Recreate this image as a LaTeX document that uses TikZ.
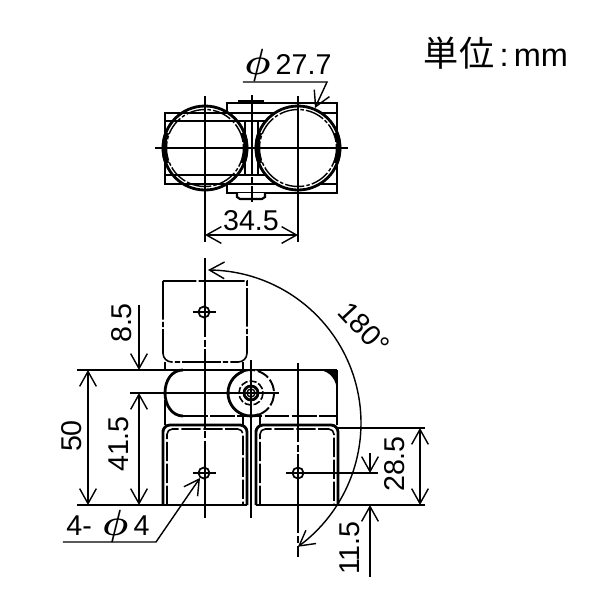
\documentclass[tikz,border=0pt]{standalone}
\usepackage{fontspec}
\setmainfont{Liberation Sans}
\newfontfamily\cjk{Noto Sans CJK JP}
\usetikzlibrary{arrows.meta}
\newcommand{\bigphi}{{\fontsize{20}{20}\selectfont\boldmath$\phi$}}
\tikzset{
	thn/.style={line width=0.8pt},
	thk/.style={line width=1.6pt},
	phantomline/.style={line width=0.9pt,dash pattern=on 22pt off 1.2pt on 3pt off 1.2pt},
	centerline/.style={line width=0.8pt,dash pattern=on 45pt off 1.5pt on 4pt off 1.5pt},
	dimarrow/.style={line width=0.8pt,{Straight Barb[length=8.5pt,width=9.5pt]}-{Straight Barb[length=8.5pt,width=9.5pt]}},
	tiparrow/.style={line width=0.8pt,-{Straight Barb[length=8.5pt,width=9.5pt]}},
	dimtext/.style={font=\fontsize{16.3}{17}\selectfont,inner sep=0pt},
}
\begin{document}
\begin{tikzpicture}[x=0.02cm,y=-0.02cm]
	\useasboundingbox (0,0) rectangle (600,600);
	\fill[white] (0,0) rectangle (600,600);

	% top view
	\begin{scope}
		\draw[thk] (165,113) rectangle (275,184);
		\draw[thk] (165,121) -- (275,121);
		\draw[thk] (165,175) -- (275,175);
		\draw[thk] (275,113) -- (337,113);
		\draw[thk] (275,184) -- (337,184);
		\draw[thk] (227,113) -- (227,103) -- (337,103) -- (337,193) -- (227,193) -- (227,184);
		\draw[thk] (245,121) -- (245,175);
		\draw[thk] (258,121) -- (258,175);
		\fill (238,103) rectangle (264,100);
		\draw[line width=1.2pt,fill=white] (237,193) -- (237,197) -- (240,199) -- (262,199) -- (265,197) -- (265,193);
		\foreach \cx/\op in {205/0,298/1} {
			\draw[thk,fill=white,fill opacity=\op] (\cx,148) circle (42);
			\draw[line width=0.8pt,dash pattern=on 11pt off 1.2pt on 2pt off 1.2pt] (\cx,148) circle (38.5);
			\draw[line width=2.6pt] plot[smooth,domain=-22:22,samples=9] ({\cx+41*cos(\x)},{148+41*sin(\x)});
			\draw[line width=2.6pt] plot[smooth,domain=158:202,samples=9] ({\cx+41*cos(\x)},{148+41*sin(\x)});
		}
		\draw[thn] (155,148) -- (348,148);
		\draw[thn] (205,96) -- (205,242);
		\draw[thn] (298,96) -- (298,242);
		\draw[centerline] (252,95) -- (252,202);
	\end{scope}

	% front view
	\begin{scope}
		\draw[phantomline,rounded corners=5pt] (163,281) [sharp corners] -- (163,340) [rounded corners=5pt] -- (163,362) -- (247,362) -- (247,340) [sharp corners] -- (247,281) -- cycle;
		\draw[thn] (165,362) -- (165,370);
		\draw[thn] (243,362) -- (243,370);
		\draw[thk] (183,370) .. controls (172,370) and (165,380) .. (165,393) .. controls (165,405) and (172,416) .. (183,416);
		\draw[line width=1.1pt,dash pattern=on 14pt off 1.5pt] (183,416) -- (337,416);
		\draw[thk] (165,400) -- (165,425);
		\draw[thk] (243,416) -- (243,425);
		\draw[thk] (260,416) -- (260,425);
		\draw[thk] (337,370) -- (337,425);
		\fill (319,370) -- (337,370) -- (337,392) .. controls (337,380) and (330,371) .. (319,370) -- cycle;
		\draw[thk] (163,505) -- (163,430) [rounded corners=4pt] -- (163,425) -- (247,425) [sharp corners] -- (247,505);
		\draw[thk] (256,505) -- (256,430) [rounded corners=4pt] -- (256,425) -- (338,425) [sharp corners] -- (338,505);
		\draw[line width=0.9pt,dash pattern=on 11pt off 1.5pt,rounded corners=3pt] (167,505) -- (167,429) -- (243,429) -- (243,505);
		\draw[line width=0.9pt,dash pattern=on 11pt off 1.5pt,rounded corners=3pt] (260,505) -- (260,429) -- (334,429) -- (334,505);
		\draw[thk] (77,370) -- (337,370);
		\draw[thk] (77,505) -- (247,505);
		\draw[thk] (256,505) -- (338,505);
		\draw[thn] (338,428) -- (425,428);
		\draw[thn] (338,505) -- (425,505);
		\draw[thn] (130,393) -- (279,393);
		% pivot
		\fill[white] (251,393) circle (23);
		\draw[thk] plot[smooth,domain=70:250,samples=19] ({251+23*cos(\x)},{393+23*sin(\x)});
		\draw[line width=1.1pt,dash pattern=on 7pt off 1.5pt] plot[smooth,domain=-110:70,samples=19] ({251+23*cos(\x)},{393+23*sin(\x)});
		\draw[line width=0.9pt,dash pattern=on 4pt off 1.2pt] (251,393) circle (12);
		\draw[thk] (251,393) circle (7);
		\draw[thn] (251,393) circle (4);
		\draw[thn] (228,393) -- (279,393);
		\draw[thn] (251,360) -- (251,518);
		\draw[centerline] (205,258) -- (205,518);
		\draw[centerline] (298,363) -- (298,557);
		% holes
		\foreach \hx/\hy in {204/312,204/473,298/473} {
			\draw[line width=1pt] (\hx,\hy) circle (5.5);
		}
		\draw[thn] (193,312) -- (216,312);
		\draw[thn] (193,473) -- (216,473);
		\draw[thn] (286,473) -- (378,473);
	\end{scope}

	% dimensions
	\begin{scope}[every node/.style={dimtext}]
		\coordinate (d34l) at (205,235);
		\coordinate (d34r) at (298,235);
		\draw[dimarrow] (d34l) -- (d34r);
		\node (t34) at (251,221) {34.5};

		\coordinate (phia) at (243,82);
		\coordinate (phib) at (327,82);
		\coordinate (phic) at (315,108);
		\draw[tiparrow] (phia) -- (phib) -- (phic);
		\node (tphi) at (288,65) {\bigphi\hspace{3pt}27.7};

		\coordinate (d85a) at (139,305);
		\coordinate (d85b) at (139,370);
		\draw[tiparrow] (d85a) -- (d85b);
		\node[rotate=90] (t85) at (122,323) {8.5};

		\coordinate (d41a) at (139,393);
		\coordinate (d41b) at (139,505);
		\draw[dimarrow] (d41a) -- (d41b);
		\node[rotate=90] (t41) at (119,444) {41.5};

		\coordinate (d50a) at (88,370);
		\coordinate (d50b) at (88,505);
		\draw[dimarrow] (d50a) -- (d50b);
		\node[rotate=90] (t50) at (72,436) {50};

		\coordinate (d28a) at (420,428);
		\coordinate (d28b) at (420,505);
		\draw[dimarrow] (d28a) -- (d28b);
		\node[rotate=90] (t28) at (395,464) {28.5};

		\coordinate (d11a) at (370,453);
		\coordinate (d11b) at (370,473);
		\coordinate (d11c) at (370,577);
		\coordinate (d11d) at (370,505);
		\draw[tiparrow] (d11a) -- (d11b);
		\draw[tiparrow] (d11c) -- (d11d);
		\node[rotate=90] (t11) at (350,548) {11.5};

		\coordinate (holea) at (63,542);
		\coordinate (holeb) at (156,542);
		\coordinate (holec) at (200,478);
		\draw[tiparrow] (holea) -- (holeb) -- (holec);
		\node (t4) at (108,526) {4-\hspace{6pt}\bigphi\hspace{3pt}4};

		\draw[line width=0.8pt,{Straight Barb[length=8.5pt,width=9.5pt]}-{Straight Barb[length=8.5pt,width=9.5pt]}] plot[smooth,domain=-90:54,samples=37] ({208+153*cos(\x)},{423+153*sin(\x)});
		\node[rotate=-47] (t180) at (364,328) {180°};
	\end{scope}

	\node[inner sep=0pt,font=\fontsize{18.5}{20}\selectfont] (unit) at (496,53) {{\cjk\fontsize{20}{20}\selectfont 単位}\hspace{3pt}:\hspace{3pt}mm};
\end{tikzpicture}
\end{document}
